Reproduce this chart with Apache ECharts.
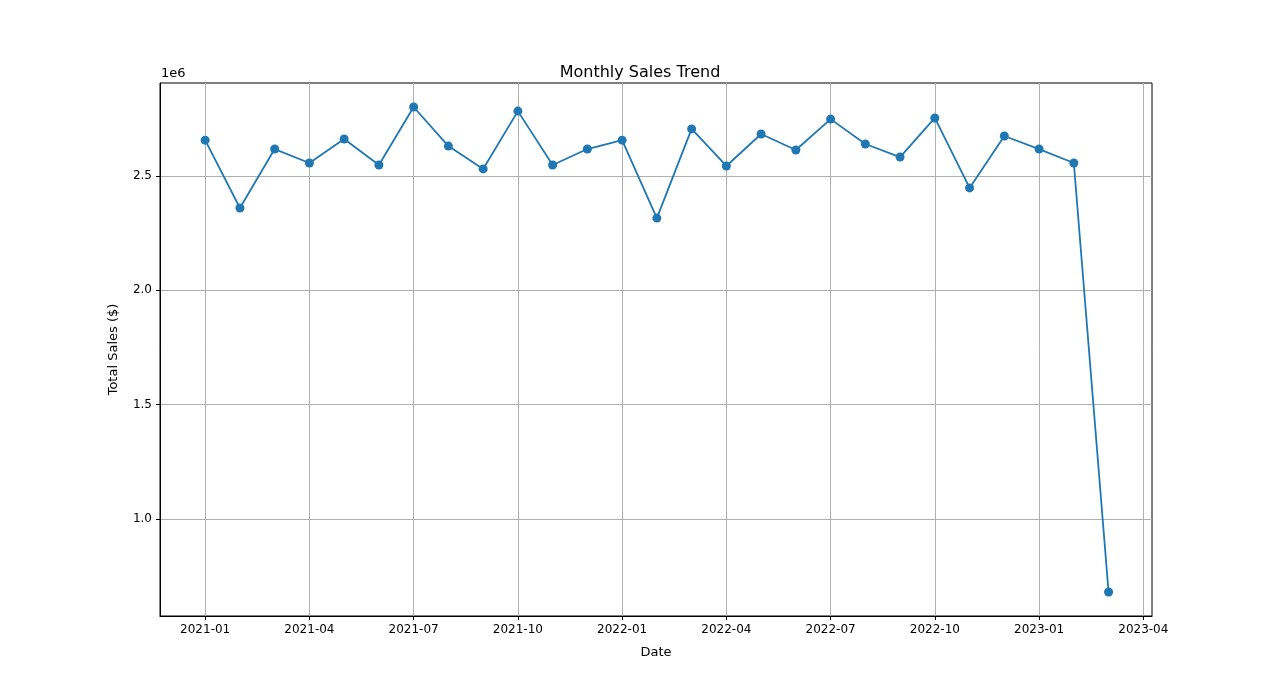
<!DOCTYPE html>
<html>
<head>
<meta charset="utf-8">
<script src="https://cdn.jsdelivr.net/npm/echarts@6/dist/echarts.min.js"></script>
<style>html,body{margin:0;padding:0;background:#fff}#main{width:1280px;height:692px}</style>
</head>
<body>
<div id="main"></div>
<script>
// months since 2021-01
var months = ['2021-01','2021-02','2021-03','2021-04','2021-05','2021-06','2021-07','2021-08','2021-09','2021-10','2021-11','2021-12',
    '2022-01','2022-02','2022-03','2022-04','2022-05','2022-06','2022-07','2022-08','2022-09','2022-10','2022-11','2022-12',
    '2023-01','2023-02','2023-03'];
var sales = [2.657, 2.360, 2.618, 2.557, 2.662, 2.548, 2.802, 2.631, 2.531, 2.784, 2.548, 2.618,
    2.657, 2.316, 2.706, 2.544, 2.684, 2.614, 2.749, 2.640, 2.583, 2.754, 2.448, 2.675,
    2.618, 2.557, 0.680];
var xTicks = [0, 3, 6, 9, 12, 15, 18, 21, 24, 27];
var yTicks = [1.0e6, 1.5e6, 2.0e6, 2.5e6];

function monthLabel(i) {
    var y = 2021 + Math.floor(i / 12);
    var m = i % 12 + 1;
    return y + '-' + (m < 10 ? '0' + m : m);
}

var data = [];
for (var i = 0; i < months.length; i++) {
    data.push([i, sales[i] * 1e6]);
}

var font = 'DejaVu Sans';
var chart = echarts.init(document.getElementById('main'));
chart.setOption({
    animation: false,
    title: { text: 'Monthly Sales Trend', left: 'center', top: 60,
        textStyle: { fontFamily: font, fontSize: 16, fontWeight: 'normal', color: '#000' } },
    graphic: [
        { type: 'text', left: 161, top: 67, style: { text: '1e6', font: '13px DejaVu Sans', fill: '#000' } },
        { type: 'rect', shape: { x: 160, y: 83, width: 992, height: 533 }, style: { fill: 'none', stroke: '#000', lineWidth: 1 }, silent: true }
    ],
    grid: { left: 160, right: 128, top: 83, bottom: 76 },
    xAxis: {
        type: 'value', min: -1.3, max: 27.25,
        name: 'Date', nameLocation: 'middle', nameGap: 30,
        nameTextStyle: { fontFamily: font, fontSize: 13, color: '#000' },
        axisLine: { onZero: false, lineStyle: { color: '#000' } },
        axisTick: { show: true, customValues: xTicks, length: 4, lineStyle: { color: '#000' } },
        axisLabel: { customValues: xTicks, formatter: function (v) { return monthLabel(Math.round(v)); },
            fontFamily: font, fontSize: 12, color: '#000', margin: 8 },
        splitLine: { show: true, lineStyle: { color: '#b0b0b0' } }
    },
    yAxis: {
        type: 'value', min: 0.575e6, max: 2.907e6,
        name: 'Total Sales ($)', nameLocation: 'middle', nameGap: 40,
        nameTextStyle: { fontFamily: font, fontSize: 13, color: '#000' },
        axisLine: { show: true, onZero: false, lineStyle: { color: '#000' } },
        axisTick: { show: true, customValues: yTicks, length: 4, lineStyle: { color: '#000' } },
        axisLabel: { customValues: yTicks, formatter: function (v) { return (v / 1e6).toFixed(1); },
            fontFamily: font, fontSize: 12, color: '#000' },
        splitLine: { show: true, lineStyle: { color: '#b0b0b0' } }
    },
    series: [{
        type: 'line', data: data, symbol: 'circle', symbolSize: 9,
        lineStyle: { color: '#1f77b4', width: 1.8 },
        itemStyle: { color: '#1f77b4' }
    }]
});
</script>
</body>
</html>
